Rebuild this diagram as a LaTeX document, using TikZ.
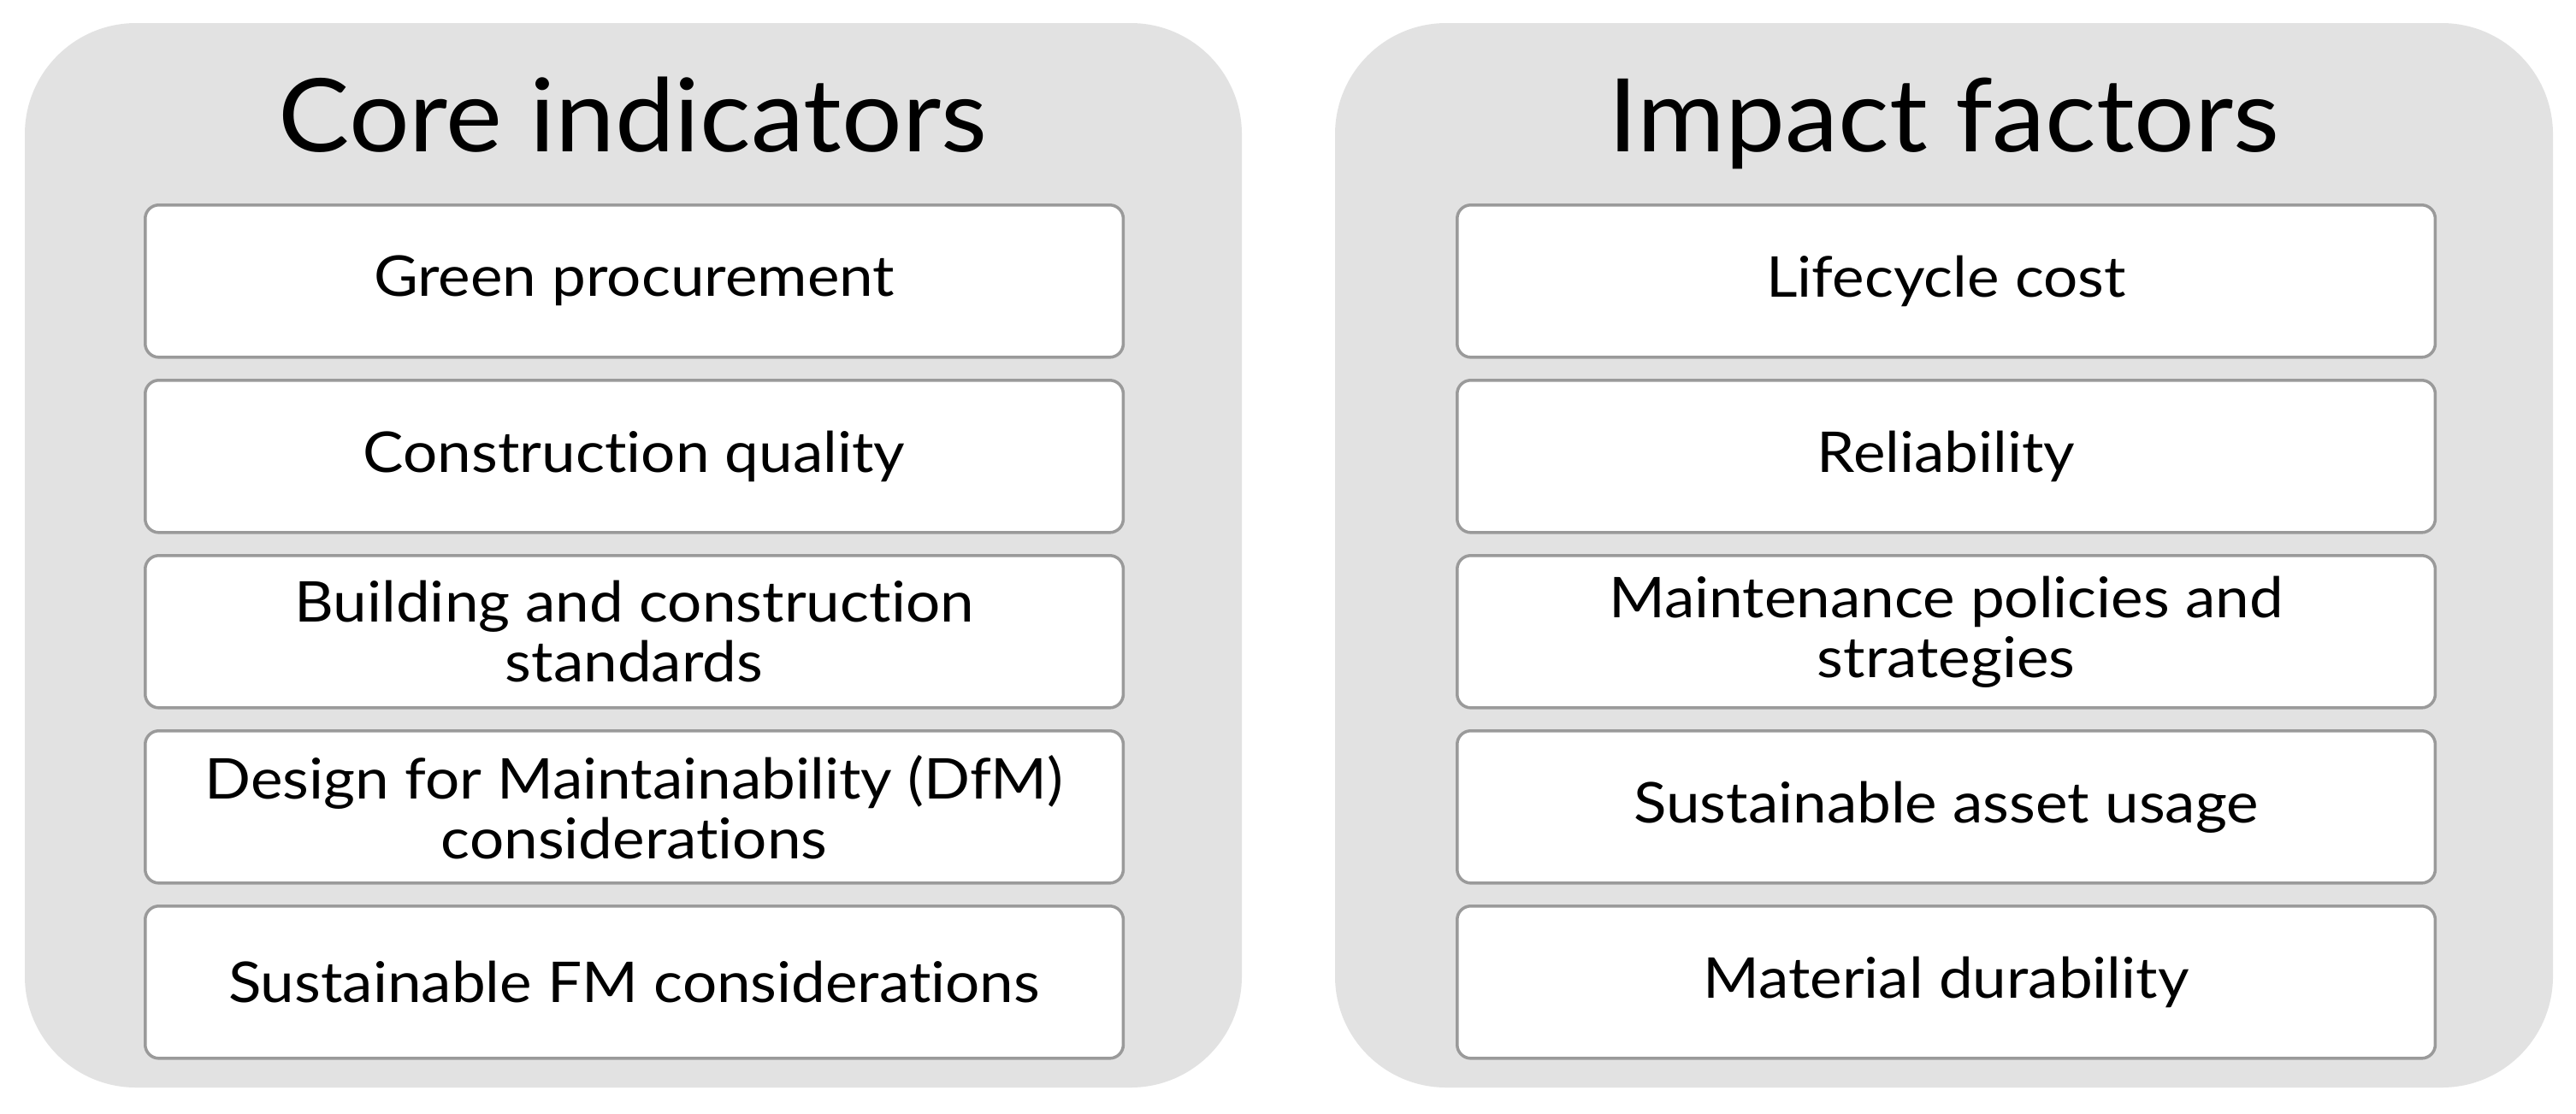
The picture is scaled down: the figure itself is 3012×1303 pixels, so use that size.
\documentclass[tikz,border=0pt]{standalone}
\usepackage{fontspec}
\setmainfont[Ligatures=NoCommon,FakeStretch=1.08]{Lato}
\newfontfamily\titlefont[Ligatures=NoCommon,FakeStretch=1.05]{Lato}
\definecolor{panelgray}{HTML}{E2E2E2}
\definecolor{boxline}{HTML}{9A9A9A}
\begin{document}
\begin{tikzpicture}[x=0.01cm,y=-0.01cm,
  panel/.style={fill=panelgray,draw=none,rounded corners=1.3cm},
  title/.style={font=\titlefont\fontsize{33.8}{40}\selectfont,anchor=base,inner sep=0pt},
  itembox/.style={draw=boxline,line width=1pt,fill=white,rounded corners=0.16cm,
    minimum width=11.43cm,minimum height=1.78cm,inner sep=0pt,anchor=north west,
    align=center,font=\fontsize{18.7}{19.9}\selectfont}]
\useasboundingbox (0,0) rectangle (3012,1303);
\fill[white] (0,0) rectangle (3012,1303);
% panels
\path[panel] (29,27) rectangle (1452,1272);
\path[panel] (1561,27) rectangle (2985,1272);
\node[title] (t1) at (740,177) {Core indicators};
\node[title] (t2) at (2273,177) {Impact factors};
% left boxes
\node[itembox] (a1) at (168,238) {Green procurement};
\node[itembox] (a2) at (168,443) {Construction quality};
\node[itembox] (a3) at (168,648) {Building and construction\\standards};
\node[itembox] (a4) at (168,853) {Design for Maintainability (DfM)\\considerations};
\node[itembox] (a5) at (168,1058) {Sustainable FM considerations};
% right boxes
\node[itembox] (b1) at (1702,238) {Lifecycle cost};
\node[itembox] (b2) at (1702,443) {Reliability};
\node[itembox] (b3) at (1702,648) {Maintenance policies and\\strategies};
\node[itembox] (b4) at (1702,853) {Sustainable asset usage};
\node[itembox] (b5) at (1702,1058) {Material durability};
\end{tikzpicture}
\end{document}
